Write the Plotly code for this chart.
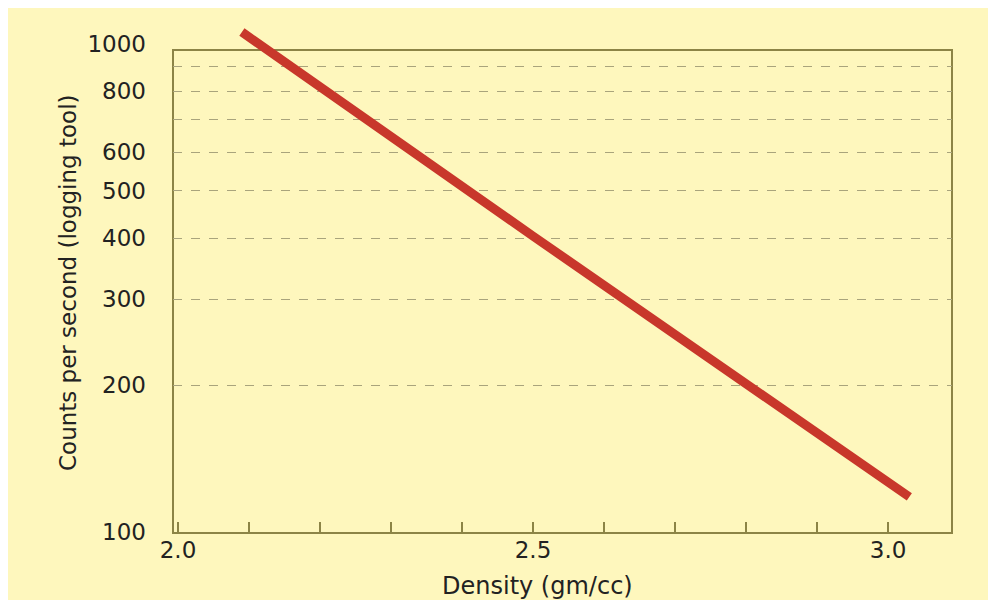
import plotly.graph_objects as go

# ---- data ----
density = [2.09, 2.5, 3.03]          # gm/cc
counts = [1058, 404, 118]            # counts per second

x_tick_vals = [2.0, 2.1, 2.2, 2.3, 2.4, 2.5, 2.6, 2.7, 2.8, 2.9, 3.0]
x_tick_text = ["2.0", "", "", "", "", "2.5", "", "", "", "", "3.0"]
y_tick_vals = [100, 200, 300, 400, 500, 600, 800, 1000]
y_tick_text = ["100", "200", "300", "400", "500", "600", "800", "1000"]
y_grid_vals = [200, 300, 400, 500, 600, 700, 800, 900]

x_title = "Density (gm/cc)"
y_title = "Counts per second (logging tool)"

# ---- styling ----
OFF = 8                                  # page body margin
W, H = 996 - OFF, 600 - OFF
L, R, T, B = 173 - OFF, 952 - OFF, 20 - OFF, 533 - OFF   # plotting area (figure px)
FRAME_TOP = 50 - OFF
YELLOW = "#FEF7BD"
OLIVE = "#8C8446"
RED = "#C8372B"
TXT = "#222222"
FONT = "DejaVu Sans"

x_range = [1.99296, 3.0901]
y_range = [1.99795, 3.04918]

pw, ph = R - L, B - T

def px_x(p):
    return (p - OFF - L) / pw

def px_y(p):
    return (B - (p - OFF)) / ph

fig = go.Figure()
fig.add_trace(go.Scatter(
    x=density, y=counts, mode="lines",
    line=dict(color=RED, width=9),
    hoverinfo="skip", showlegend=False,
))

fig.update_layout(
    width=W, height=H,
    margin=dict(l=L, r=W - R, t=T, b=H - B, pad=0),
    paper_bgcolor=YELLOW,
    plot_bgcolor=YELLOW,
    showlegend=False,
    xaxis=dict(
        range=x_range, tickmode="array", tickvals=x_tick_vals, ticktext=x_tick_text,
        ticks="inside", ticklen=11, tickwidth=2, tickcolor=OLIVE,
        showgrid=False, zeroline=False, showline=False,
        tickfont=dict(family=FONT, size=23, color=TXT),
        ticklabelstandoff=1,
    ),
    yaxis=dict(
        type="log", range=y_range, tickmode="array",
        tickvals=y_tick_vals, ticktext=y_tick_text,
        ticks="", showgrid=False, zeroline=False, showline=False,
        tickfont=dict(family=FONT, size=23, color=TXT),
        ticklabelstandoff=26,
        minor=dict(tickmode="array", tickvals=y_grid_vals, showgrid=True,
                   gridcolor="#A9A47C", griddash="dash", gridwidth=1, ticks=""),
    ),
    shapes=[
        dict(type="rect", xref="paper", yref="paper", layer="between",
             x0=0, x1=1, y0=0, y1=px_y(50),
             fillcolor="rgba(0,0,0,0)", line=dict(color=OLIVE, width=2)),
    ],
    annotations=[
        dict(text=x_title, xref="paper", yref="paper", x=px_x(537), y=px_y(586),
             showarrow=False, xanchor="center", yanchor="middle",
             font=dict(family=FONT, size=24, color=TXT)),
        dict(text=y_title, xref="paper", yref="paper", x=px_x(68), y=px_y(283),
             showarrow=False, xanchor="center", yanchor="middle", textangle=-90,
             font=dict(family=FONT, size=23, color=TXT)),
    ],
)

fig.write_html("out.html")
